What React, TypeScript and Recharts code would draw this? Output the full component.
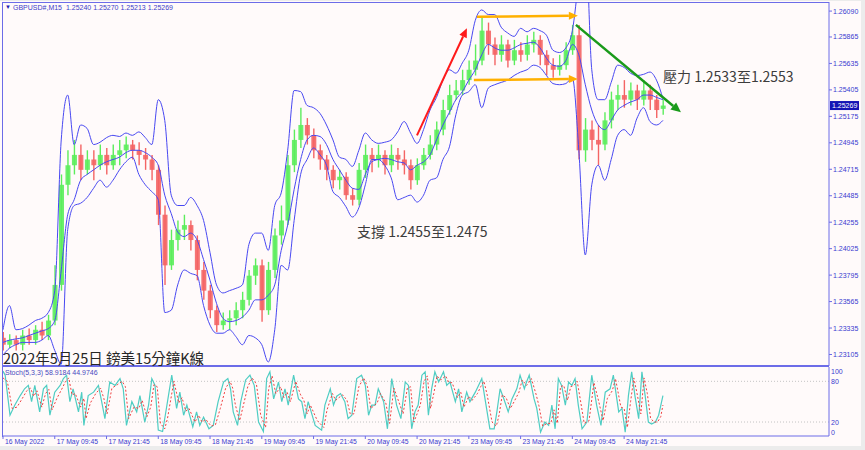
import React from 'react';
import { ComposedChart, Bar, Line, XAxis, YAxis, ReferenceLine } from 'recharts';

// one point = 6 bars of M15
const STEP = 6;

const opens = [
  1.2325, 1.2319, 1.2323, 1.2319, 1.2327, 1.2323, 1.2332, 1.2327, 1.2340, 1.2371,
  1.2458, 1.2475, 1.2484, 1.2471, 1.2480, 1.2475, 1.2484, 1.2475, 1.2484, 1.2488,
  1.2493, 1.2488, 1.2484, 1.2480, 1.2471, 1.2432, 1.2388, 1.2410, 1.2419, 1.2423,
  1.2410, 1.2384, 1.2366, 1.2349, 1.2336, 1.2340, 1.2342, 1.2349, 1.2358, 1.2379,
  1.2388, 1.2349, 1.2384, 1.2414, 1.2427, 1.2475, 1.2497, 1.2510, 1.2501, 1.2488,
  1.2480, 1.2471, 1.2462, 1.2465, 1.2449, 1.2445, 1.2471, 1.2484, 1.2480, 1.2484,
  1.2475, 1.2484, 1.2480, 1.2475, 1.2462, 1.2475, 1.2484, 1.2493, 1.2506, 1.2523,
  1.2536, 1.2540, 1.2549, 1.2558, 1.2566, 1.2592, 1.2580, 1.2571, 1.2580, 1.2566,
  1.2575, 1.2571, 1.2580, 1.2584, 1.2571, 1.2562, 1.2558, 1.2562, 1.2575, 1.2588,
  1.2488, 1.2506, 1.2497, 1.2493, 1.2514, 1.2532, 1.2536, 1.2532, 1.2540, 1.2532,
  1.2540, 1.2532, 1.2524,
];
const highs = [
  1.2330, 1.2328, 1.2327, 1.2332, 1.2333, 1.2336, 1.2339, 1.2345, 1.2388, 1.2467,
  1.2488, 1.2497, 1.2493, 1.2488, 1.2488, 1.2493, 1.2490, 1.2493, 1.2497, 1.2500,
  1.2497, 1.2495, 1.2490, 1.2484, 1.2475, 1.2440, 1.2419, 1.2427, 1.2432, 1.2427,
  1.2414, 1.2391, 1.2371, 1.2353, 1.2347, 1.2349, 1.2356, 1.2365, 1.2384, 1.2394,
  1.2393, 1.2391, 1.2420, 1.2440, 1.2484, 1.2506, 1.2525, 1.2516, 1.2507, 1.2493,
  1.2484, 1.2475, 1.2471, 1.2469, 1.2455, 1.2477, 1.2493, 1.2490, 1.2493, 1.2488,
  1.2493, 1.2490, 1.2488, 1.2480, 1.2481, 1.2490, 1.2501, 1.2513, 1.2532, 1.2545,
  1.2549, 1.2558, 1.2566, 1.2580, 1.2604, 1.2599, 1.2586, 1.2588, 1.2584, 1.2584,
  1.2582, 1.2588, 1.2591, 1.2588, 1.2575, 1.2568, 1.2571, 1.2582, 1.2597, 1.2597,
  1.2516, 1.2514, 1.2510, 1.2521, 1.2539, 1.2545, 1.2549, 1.2547, 1.2545, 1.2549,
  1.2545, 1.2536, 1.2532,
];
const lows = [
  1.2314, 1.2316, 1.2314, 1.2314, 1.2319, 1.2319, 1.2323, 1.2323, 1.2336, 1.2366,
  1.2449, 1.2467, 1.2462, 1.2467, 1.2462, 1.2471, 1.2467, 1.2471, 1.2475, 1.2481,
  1.2480, 1.2475, 1.2471, 1.2462, 1.2423, 1.2371, 1.2384, 1.2401, 1.2410, 1.2401,
  1.2375, 1.2358, 1.2342, 1.2330, 1.2332, 1.2332, 1.2336, 1.2342, 1.2353, 1.2371,
  1.2339, 1.2345, 1.2377, 1.2406, 1.2423, 1.2469, 1.2490, 1.2493, 1.2481, 1.2471,
  1.2462, 1.2455, 1.2454, 1.2445, 1.2440, 1.2440, 1.2464, 1.2469, 1.2473, 1.2467,
  1.2469, 1.2471, 1.2467, 1.2454, 1.2458, 1.2471, 1.2480, 1.2488, 1.2501, 1.2519,
  1.2532, 1.2536, 1.2545, 1.2553, 1.2562, 1.2571, 1.2562, 1.2565, 1.2560, 1.2562,
  1.2565, 1.2566, 1.2573, 1.2562, 1.2553, 1.2551, 1.2553, 1.2558, 1.2571, 1.2480,
  1.2478, 1.2488, 1.2475, 1.2488, 1.2507, 1.2523, 1.2525, 1.2527, 1.2523, 1.2527,
  1.2523, 1.2516, 1.2519,
];
const closes = [
  1.2319, 1.2323, 1.2319, 1.2327, 1.2323, 1.2332, 1.2327, 1.2340, 1.2371, 1.2458,
  1.2475, 1.2484, 1.2471, 1.2480, 1.2475, 1.2484, 1.2475, 1.2484, 1.2488, 1.2493,
  1.2488, 1.2484, 1.2480, 1.2471, 1.2432, 1.2388, 1.2410, 1.2419, 1.2423, 1.2410,
  1.2384, 1.2366, 1.2349, 1.2336, 1.2340, 1.2342, 1.2349, 1.2358, 1.2379, 1.2388,
  1.2349, 1.2384, 1.2414, 1.2427, 1.2475, 1.2497, 1.2510, 1.2501, 1.2488, 1.2480,
  1.2471, 1.2462, 1.2465, 1.2449, 1.2445, 1.2471, 1.2484, 1.2480, 1.2484, 1.2475,
  1.2484, 1.2480, 1.2475, 1.2462, 1.2475, 1.2484, 1.2493, 1.2506, 1.2523, 1.2536,
  1.2540, 1.2549, 1.2558, 1.2566, 1.2592, 1.2580, 1.2571, 1.2580, 1.2566, 1.2575,
  1.2571, 1.2580, 1.2584, 1.2571, 1.2562, 1.2558, 1.2562, 1.2575, 1.2588, 1.2488,
  1.2506, 1.2497, 1.2493, 1.2514, 1.2532, 1.2536, 1.2532, 1.2540, 1.2532, 1.2540,
  1.2532, 1.2523, 1.25269,
];

// bollinger style envelope
const upperBand = [
  1.2332, 1.2353, 1.2332, 1.2333, 1.2336, 1.2340, 1.2342, 1.2347, 1.2366, 1.2497,
  1.2536, 1.2493, 1.2510, 1.2507, 1.2493, 1.2495, 1.2499, 1.2501, 1.2500, 1.2503,
  1.2501, 1.2504, 1.2499, 1.2493, 1.2532, 1.2514, 1.2449, 1.2440, 1.2440, 1.2447,
  1.2440, 1.2427, 1.2399, 1.2371, 1.2364, 1.2366, 1.2368, 1.2371, 1.2406, 1.2416,
  1.2416, 1.2401, 1.2440, 1.2451, 1.2488, 1.2540, 1.2539, 1.2527, 1.2525, 1.2520,
  1.2510, 1.2497, 1.2482, 1.2480, 1.2474, 1.2488, 1.2503, 1.2497, 1.2494, 1.2495,
  1.2497, 1.2504, 1.2513, 1.2503, 1.2494, 1.2506, 1.2523, 1.2534, 1.2549, 1.2558,
  1.2555, 1.2564, 1.2575, 1.2601, 1.2610, 1.2606, 1.2606, 1.2595, 1.2590, 1.2587,
  1.2594, 1.2591, 1.2594, 1.2592, 1.2588, 1.2575, 1.2573, 1.2577, 1.2592, 1.2636,
  1.2671, 1.2558, 1.2532, 1.2532, 1.2547, 1.2562, 1.2560, 1.2555, 1.2553, 1.2554,
  1.2556, 1.2549, 1.2533,
];
const middleBand = [
  1.2321, 1.2323, 1.2324, 1.2325, 1.2327, 1.2329, 1.2331, 1.2333, 1.2340, 1.2384,
  1.2432, 1.2445, 1.2462, 1.2467, 1.2471, 1.2475, 1.2478, 1.2480, 1.2482, 1.2486,
  1.2488, 1.2488, 1.2486, 1.2482, 1.2475, 1.2449, 1.2433, 1.2417, 1.2413, 1.2416,
  1.2410, 1.2393, 1.2375, 1.2355, 1.2342, 1.2339, 1.2340, 1.2343, 1.2349, 1.2358,
  1.2358, 1.2362, 1.2371, 1.2401, 1.2423, 1.2454, 1.2480, 1.2497, 1.2501, 1.2500,
  1.2493, 1.2480, 1.2471, 1.2462, 1.2455, 1.2454, 1.2467, 1.2478, 1.2480, 1.2481,
  1.2480, 1.2478, 1.2477, 1.2471, 1.2475, 1.2478, 1.2484, 1.2497, 1.2510, 1.2521,
  1.2532, 1.2539, 1.2549, 1.2558, 1.2571, 1.2580, 1.2577, 1.2575, 1.2575, 1.2577,
  1.2580, 1.2581, 1.2582, 1.2577, 1.2568, 1.2562, 1.2561, 1.2566, 1.2580, 1.2571,
  1.2545, 1.2523, 1.2510, 1.2506, 1.2514, 1.2523, 1.2527, 1.2530, 1.2532, 1.2536,
  1.2536, 1.2534, 1.2532,
];
const lowerBand = [
  1.2310, 1.2316, 1.2319, 1.2321, 1.2321, 1.2321, 1.2323, 1.2327, 1.2314, 1.2302,
  1.2419, 1.2440, 1.2442, 1.2447, 1.2455, 1.2462, 1.2456, 1.2462, 1.2471, 1.2478,
  1.2482, 1.2467, 1.2458, 1.2452, 1.2445, 1.2347, 1.2349, 1.2371, 1.2384, 1.2381,
  1.2379, 1.2353, 1.2336, 1.2329, 1.2329, 1.2332, 1.2326, 1.2319, 1.2327, 1.2325,
  1.2319, 1.2304, 1.2332, 1.2388, 1.2384, 1.2427, 1.2467, 1.2480, 1.2490, 1.2484,
  1.2475, 1.2452, 1.2447, 1.2439, 1.2430, 1.2438, 1.2458, 1.2480, 1.2480, 1.2475,
  1.2464, 1.2445, 1.2447, 1.2449, 1.2443, 1.2449, 1.2462, 1.2464, 1.2480, 1.2491,
  1.2519, 1.2536, 1.2539, 1.2545, 1.2525, 1.2542, 1.2545, 1.2547, 1.2549, 1.2553,
  1.2556, 1.2558, 1.2562, 1.2560, 1.2553, 1.2546, 1.2545, 1.2546, 1.2551, 1.2488,
  1.2397, 1.2458, 1.2475, 1.2462, 1.2480, 1.2501, 1.2506, 1.2501, 1.2516, 1.2525,
  1.2513, 1.2510, 1.2514,
];

// stochastic %K and %D turning points: [bar, value]
const stochMain: [number, number][] = [
  [0, 95], [2, 89], [6.5, 30], [11, 45], [16, 59], [20, 69], [23.5, 74], [26.5, 50], [29.5, 74], [34, 35],
  [37.5, 69], [40.5, 74], [43.5, 30], [48, 64], [53, 74], [56, 84], [59, 89], [62, 50], [65, 69], [70, 35],
  [73, 64], [75, 15], [79, 59], [84, 64], [88.5, 74], [91.5, 50], [94.5, 25], [99, 79], [104, 74], [108.5, 84],
  [111.5, 69], [114.5, 15], [119.5, 50], [124, 35], [127, 59], [131.5, 20], [135, 45], [138, 84], [141, 74], [144, 8],
  [148, 6], [150.5, 30], [156.5, 89], [161, 40], [164, 64], [167.5, 30], [170.5, 45], [176, 13], [179.5, 35], [182.5, 15],
  [186, 27], [191, 10], [195, 15], [199.5, 50], [204.5, 79], [208.5, 84], [211, 69], [213.5, 35], [217.5, 15], [220.5, 50],
  [225, 82], [229, 89], [233, 74], [237, 20], [241.5, 6], [244.5, 84], [247.5, 94], [251, 54], [255.5, 79], [258.5, 50],
  [261.5, 69], [264.5, 45], [269.5, 89], [274, 54], [277, 50], [280, 25], [283, 50], [289.5, 15], [295.5, 8], [298.5, 45],
  [303.5, 69], [306.5, 45], [309.5, 58], [313, 62], [317, 50], [320, 25], [323.5, 30], [328, 84], [332.5, 89], [336, 74],
  [339, 30], [342, 45], [345, 45], [348, 69], [353, 50], [356.5, 10], [360.5, 84], [365, 45], [369, 25], [373, 79],
  [376, 74], [379, 10], [382, 35], [385, 45], [388.5, 89], [391.5, 94], [394.5, 30], [397.5, 69], [400.5, 94], [404, 79],
  [408.5, 94], [411.5, 74], [414.5, 79], [419.5, 50], [422.5, 69], [425.5, 35], [430, 64], [433, 50], [438, 64], [441, 74],
  [444, 84], [447, 54], [451.5, 10], [455.5, 10], [458, 35], [461, 69], [464.5, 54], [468.5, 35], [472, 54], [476.5, 69],
  [479.5, 89], [483.5, 69], [485.5, 79], [488, 89], [492.5, 54], [495, 40], [498.5, 5], [502.5, 20], [506, 15], [509, 45],
  [512, 10], [515, 84], [518, 74], [521.5, 45], [524.5, 79], [527.5, 74], [530.5, 84], [533.5, 45], [537, 10], [541.5, 20],
  [546, 89], [550.5, 45], [554.5, 15], [558.5, 64], [563, 69], [566, 89], [571, 35], [574, 40], [577, 5], [580, 59],
  [583, 94], [586, 59], [589.5, 25], [592.5, 94], [595.5, 59], [598.5, 20], [601.5, 17], [605, 20], [608, 30], [612, 58.9],
];
const stochSignal: [number, number][] = [
  [0, 85], [4, 80], [8.5, 40], [13, 42], [18, 55], [22, 66], [25.5, 70], [28.5, 58], [31.5, 66], [36, 42],
  [39.5, 62], [42.5, 68], [45.5, 38], [50, 55], [55, 70], [58, 80], [61, 85], [64, 60], [67, 62], [72, 42],
  [75, 55], [77, 25], [81, 48], [86, 62], [90.5, 70], [93.5, 55], [96.5, 32], [101, 70], [106, 75], [110.5, 80],
  [113.5, 72], [116.5, 25], [121.5, 42], [126, 40], [129, 52], [133.5, 28], [137, 42], [140, 75], [143, 72], [146, 18],
  [150, 10], [152.5, 25], [158.5, 80], [163, 48], [166, 56], [169.5, 36], [172.5, 40], [178, 20], [181.5, 30], [184.5, 20],
  [188, 24], [193, 14], [197, 16], [201.5, 40], [206.5, 70], [210.5, 80], [213, 70], [215.5, 45], [219.5, 22], [222.5, 42],
  [227, 72], [231, 85], [235, 76], [239, 30], [243.5, 12], [246.5, 70], [249.5, 88], [253, 62], [257.5, 72], [260.5, 56],
  [263.5, 64], [266.5, 50], [271.5, 80], [276, 60], [279, 52], [282, 32], [285, 45], [291.5, 22], [297.5, 12], [300.5, 38],
  [305.5, 62], [308.5, 52], [311.5, 56], [315, 60], [319, 52], [322, 32], [325.5, 32], [330, 72], [334.5, 85], [338, 72],
  [341, 40], [344, 44], [347, 48], [350, 62], [355, 48], [358.5, 18], [362.5, 70], [367, 50], [371, 32], [375, 70],
  [378, 72], [381, 20], [384, 32], [387, 45], [390.5, 80], [393.5, 88], [396.5, 40], [399.5, 62], [402.5, 88], [406, 82],
  [410.5, 88], [413.5, 78], [416.5, 78], [421.5, 56], [424.5, 64], [427.5, 42], [432, 58], [435, 52], [440, 62], [443, 72],
  [446, 80], [449, 60], [453.5, 20], [457.5, 14], [460, 30], [463, 60], [466.5, 56], [470.5, 40], [474, 50], [478.5, 64],
  [481.5, 82], [485.5, 74], [487.5, 78], [490, 84], [494.5, 60], [497, 44], [500.5, 14], [504.5, 18], [508, 18], [511, 38],
  [514, 18], [517, 72], [520, 74], [523.5, 52], [526.5, 72], [529.5, 74], [532.5, 80], [535.5, 52], [539, 18], [543.5, 22],
  [548, 78], [552.5, 50], [556.5, 22], [560.5, 55], [565, 66], [568, 84], [573, 42], [576, 40], [579, 12], [582, 50],
  [585, 85], [588, 62], [591.5, 32], [594.5, 85], [597.5, 62], [600.5, 26], [603.5, 20], [607, 20], [610, 28], [612, 44.97],
];

const priceTicks = [
  1.23105, 1.23335, 1.23565, 1.23795, 1.24025, 1.24255, 1.24485,
  1.24715, 1.24945, 1.25175, 1.25405, 1.25635, 1.25865, 1.2609,
];
const stochTicks = [0, 20, 80, 100];
const timeLabels = [
  '16 May 2022', '17 May 09:45', '17 May 21:45', '18 May 09:45', '18 May 21:45', '19 May 09:45', '19 May 21:45',
  '20 May 09:45', '20 May 21:45', '23 May 09:45', '23 May 21:45', '24 May 09:45', '24 May 21:45',
];
const timeTickBars = [0, 48, 96, 144, 192, 240, 288, 336, 384, 432, 480, 528, 576];
const lastPrice = 1.25269;

const candles = closes.map((c, i) => ({
  bar: i * STEP,
  open: opens[i],
  high: highs[i],
  low: lows[i],
  close: c,
  hl: [lows[i], highs[i]],
  upper: upperBand[i],
  middle: middleBand[i],
  lower: lowerBand[i],
}));
const stochK = stochMain.map(([bar, v]) => ({ bar, v }));
const stochD = stochSignal.map(([bar, v]) => ({ bar, v }));

const BG = '#fffafa';
const FRAME = '#6c6ce8';
const LABEL = '#3a3ad0';
const BAND = '#4848f2';
const UP = '#5ced5c';
const DOWN = '#f46464';
const UI_FONT = '"Liberation Sans", "DejaVu Sans", sans-serif';
const CJK_FONT = '"Noto Sans CJK TC", "Noto Sans CJK SC", sans-serif';
const X_DOMAIN: [number, number] = [0, 766];

function Candle(props: any) {
  const { x, y, width, height, payload } = props;
  if (x == null || y == null || !payload) return null;
  const top = Math.min(y, y + height);
  const h = Math.abs(height);
  const span = payload.high - payload.low || 1e-9;
  const yOf = (v: number) => top + ((payload.high - v) / span) * h;
  const color = payload.close >= payload.open ? UP : DOWN;
  const cx = x + width / 2;
  const b1 = yOf(Math.max(payload.open, payload.close));
  const b2 = yOf(Math.min(payload.open, payload.close));
  return (
    <g>
      <line x1={cx} x2={cx} y1={top} y2={top + h} stroke={color} strokeWidth={1.4} />
      <rect x={cx - 2.5} y={b1} width={5} height={Math.max(1, b2 - b1)} fill={color} fillOpacity={0.9} />
    </g>
  );
}

function PriceTick({ x, y, payload }: any) {
  return (
    <g>
      <line x1={x} x2={x + 3} y1={y} y2={y} stroke={FRAME} />
      <text x={x + 4} y={y + 2.5} fontSize={7} fontFamily={UI_FONT} fill={LABEL}>
        {payload.value.toFixed(5)}
      </text>
    </g>
  );
}

function StochTick({ x, y, payload }: any) {
  const shift = payload.value === 100 ? 4 : payload.value === 0 ? -3.5 : 0;
  return (
    <text x={x + 2} y={y + 2.5 + shift} fontSize={7} fontFamily={UI_FONT} fill={LABEL}>
      {payload.value}
    </text>
  );
}

function TimeTick({ x, y, payload }: any) {
  const label = timeLabels[timeTickBars.indexOf(payload.value)];
  return (
    <g>
      <line x1={x} x2={x} y1={y} y2={y + 3} stroke={FRAME} />
      <text x={x + 2} y={y + 8} fontSize={6.8} fontFamily={UI_FONT} fill={LABEL}>
        {label}
      </text>
    </g>
  );
}

function PriceTag(props: any) {
  const vb = props.viewBox;
  if (!vb) return null;
  const left = vb.x + vb.width + 1;
  return (
    <g>
      <rect x={left} y={vb.y - 4.5} width={29} height={9} fill="#1414b4" />
      <text x={left + 2} y={vb.y + 2.5} fontSize={7} fontFamily={UI_FONT} fill="#ffffff">
        {lastPrice.toFixed(5)}
      </text>
    </g>
  );
}

const arrow = (color: string, width: number, head: number) => (p: any) => {
  const { x1, y1, x2, y2 } = p;
  const a = Math.atan2(y2 - y1, x2 - x1);
  const bx = x2 - head * Math.cos(a);
  const by = y2 - head * Math.sin(a);
  const px = -Math.sin(a) * head * 0.45;
  const py = Math.cos(a) * head * 0.45;
  return (
    <g>
      <line x1={x1} y1={y1} x2={bx} y2={by} stroke={color} strokeWidth={width} />
      <polygon points={`${x2},${y2} ${bx + px},${by + py} ${bx - px},${by - py}`} fill={color} />
    </g>
  );
};

const abs = (style: React.CSSProperties): React.CSSProperties => ({
  position: 'absolute',
  whiteSpace: 'nowrap',
  lineHeight: 1,
  ...style,
});

export default function App() {
  return (
    <div style={{ position: 'fixed', left: 0, top: 0, width: 865, height: 450, background: '#ececec', overflow: 'hidden' }}>
      <div style={{ position: 'absolute', left: 0, top: 1, width: 861, height: 445, background: BG }} />
      <div style={{ position: 'absolute', left: 2, top: 2, width: 827, height: 1, background: FRAME }} />
      <div style={{ position: 'absolute', left: 2, top: 2, width: 1, height: 435, background: FRAME }} />

      <div style={{ position: 'absolute', left: 0, top: 0 }}>
        <ComposedChart width={865} height={366} data={candles} margin={{ top: 2, right: 0, bottom: 0, left: 3 }}>
          <XAxis dataKey="bar" type="number" domain={X_DOMAIN} allowDataOverflow hide />
          <YAxis
            orientation="right"
            width={36}
            domain={[1.23005, 1.26169]}
            allowDataOverflow
            ticks={priceTicks}
            interval={0}
            tickLine={false}
            tickSize={0}
            tickMargin={0}
            axisLine={{ stroke: FRAME }}
            tick={<PriceTick />}
          />
          <Bar dataKey="hl" barSize={5} shape={<Candle />} isAnimationActive={false} />
          <Line dataKey="upper" type="monotone" stroke={BAND} strokeWidth={1} dot={false} isAnimationActive={false} />
          <Line dataKey="middle" type="monotone" stroke={BAND} strokeWidth={1} dot={false} isAnimationActive={false} />
          <Line dataKey="lower" type="monotone" stroke={BAND} strokeWidth={1} dot={false} isAnimationActive={false} />
          <ReferenceLine y={lastPrice} stroke="none" label={<PriceTag />} />
          <ReferenceLine segment={[{ x: 383.9, y: 1.2501 }, { x: 430.2, y: 1.2594 }]} ifOverflow="visible" shape={arrow('#ff1a1a', 2, 9)} />
          <ReferenceLine segment={[{ x: 439.5, y: 1.2604 }, { x: 533.1, y: 1.2605 }]} ifOverflow="visible" shape={arrow('#ffb000', 2.5, 9)} />
          <ReferenceLine segment={[{ x: 436.7, y: 1.2549 }, { x: 533.1, y: 1.255 }]} ifOverflow="visible" shape={arrow('#ffb000', 2.5, 9)} />
          <ReferenceLine segment={[{ x: 531.3, y: 1.2597 }, { x: 628.7, y: 1.2521 }]} ifOverflow="visible" shape={arrow('#1a9a1a', 2.5, 10)} />
        </ComposedChart>
      </div>

      <div style={{ position: 'absolute', left: 2, top: 365, width: 827, height: 2, background: FRAME }} />

      <div style={{ position: 'absolute', left: 0, top: 366 }}>
        <ComposedChart width={865} height={83} margin={{ top: 1, right: 0, bottom: 0, left: 3 }}>
          <XAxis
            dataKey="bar"
            type="number"
            domain={X_DOMAIN}
            allowDataOverflow
            ticks={timeTickBars}
            interval={0}
            height={13}
            tickLine={false}
            tickSize={0}
            tickMargin={0}
            axisLine={{ stroke: FRAME }}
            tick={<TimeTick />}
          />
          <YAxis
            orientation="right"
            width={36}
            domain={[-0.6, 101.1]}
            allowDataOverflow
            ticks={stochTicks}
            interval={0}
            tickLine={false}
            tickSize={0}
            tickMargin={0}
            axisLine={{ stroke: FRAME }}
            tick={<StochTick />}
          />
          <ReferenceLine y={80} stroke="#c4c4c4" strokeDasharray="1 2" />
          <ReferenceLine y={20} stroke="#c4c4c4" strokeDasharray="1 2" />
          <Line data={stochK} dataKey="v" type="linear" stroke="#4fcdc3" strokeWidth={1.2} dot={false} isAnimationActive={false} />
          <Line data={stochD} dataKey="v" type="linear" stroke="#f04040" strokeWidth={1} strokeDasharray="2 2" dot={false} isAnimationActive={false} />
        </ComposedChart>
      </div>

      <div style={abs({ left: 5, top: 4, fontSize: 6, color: '#2020b0', fontFamily: UI_FONT })}>▼</div>
      <div style={abs({ left: 13, top: 3.5, fontSize: 7, color: '#3c3cc8', fontFamily: UI_FONT })}>
        GBPUSD#,M15&nbsp;&nbsp;1.25240 1.25270 1.25213 1.25269
      </div>
      <div style={abs({ left: 5, top: 368.5, fontSize: 7, color: '#4a4ac0', fontFamily: UI_FONT })}>
        Stoch(5,3,3) 58.9184 44.9746
      </div>
      <div style={abs({ left: 357, top: 223.5, fontSize: 14, color: '#3c3c3c', fontFamily: CJK_FONT })}>
        支撐 1.2455至1.2475
      </div>
      <div style={abs({ left: 663, top: 69, fontSize: 14, color: '#3c3c3c', fontFamily: CJK_FONT })}>
        壓力 1.2533至1.2553
      </div>
      <div style={abs({ left: 3, top: 350.5, fontSize: 14.5, color: '#262626', fontFamily: CJK_FONT })}>
        2022年5月25日 鎊美15分鐘K線
      </div>
    </div>
  );
}
